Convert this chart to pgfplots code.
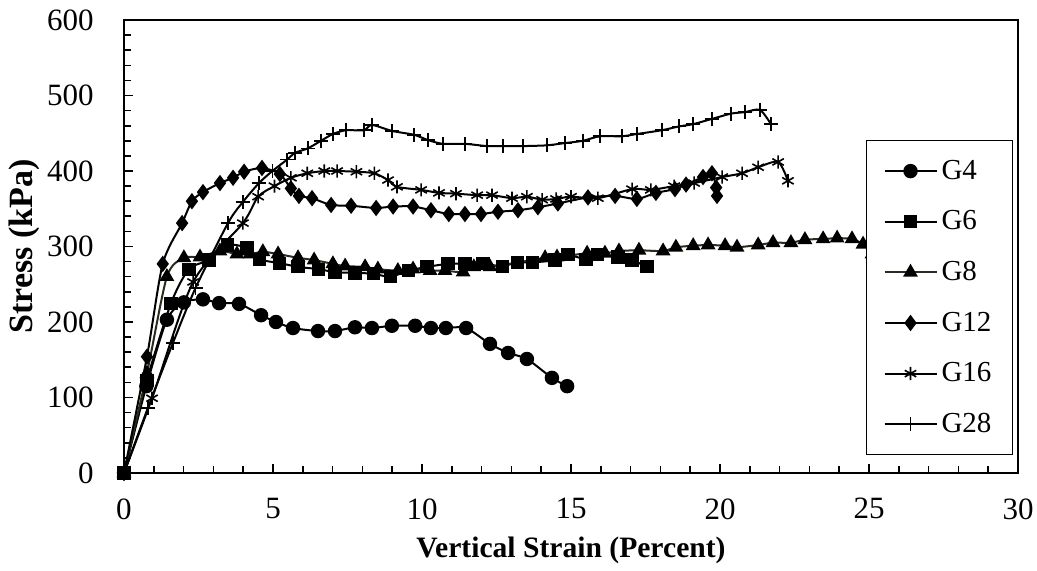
\documentclass[border=0pt]{standalone}
\usepackage{pgfplots}
\pgfplotsset{compat=1.18}
\usepackage{fontspec}
\setmainfont{Liberation Serif}
\begin{document}
\begin{tikzpicture}
\begin{axis}[
  name=ax,
  scale only axis,
  width=447pt, height=226.5pt,
  xmin=0, xmax=30, ymin=0, ymax=600,
  xtick distance=5, ytick distance=100,
  minor x tick num=4, minor y tick num=4,
  xtick pos=bottom, ytick pos=left,
  tick align=inside,
  major tick length=4.5pt, minor tick length=3.5pt,
  every tick/.style={black, line width=0.8pt},
  axis line style={line width=1pt},
  /pgf/number format/assume math mode=true,
  tick label style={font=\fontsize{15.5}{17}\selectfont},
  yticklabel style={anchor=east, inner sep=0pt, xshift=-15pt},
  xticklabel style={anchor=north, inner sep=0pt, yshift=-12.5pt},
  xlabel={\textbf{Vertical Strain (Percent)}},
  ylabel={\textbf{Stress (kPa)}},
  xlabel style={font=\fontsize{14.8}{17}\selectfont, at={(rel axis cs:0.5,0)}, anchor=center, yshift=-38.5pt},
  ylabel style={font=\fontsize{17}{19}\selectfont, at={(rel axis cs:0,0.5)}, anchor=center, yshift=50pt},
  every axis plot/.append style={line width=1pt, smooth, tension=0.45},
  legend style={at={(rel axis cs:0.83,0.04)}, anchor=south west,
    draw=black, line width=0.5pt, fill=white,
    font=\fontsize{14.5}{16}\selectfont,
    row sep=10.2pt, inner xsep=8.5pt, inner ysep=7.5pt},
  legend cell align=left,
  legend image code/.code={\draw[mark repeat=2, mark phase=2, #1] plot coordinates {(0pt,0pt) (13pt,0pt) (26pt,0pt)};},
]
% G4
\addplot[black, mark=*, mark size=3.1pt] coordinates {
(0,0) (0.75,115) (1.44,203) (2.01,226) (2.65,230) (3.19,225) (3.86,224) (4.6,209)
(5.1,200) (5.67,192) (6.51,188) (7.08,188) (7.75,193) (8.32,192) (8.99,195)
(9.77,195) (10.3,192) (10.8,192) (11.48,192) (12.28,171) (12.89,159) (13.52,151)
(14.36,126) (14.87,115)};
\addlegendentry{G4}
% G6
\addplot[black, mark=square*, mark size=2.8pt] coordinates {
(0,0) (0.77,123) (1.58,225) (2.18,270) (2.85,282) (3.46,302) (4.13,298) (4.56,283)
(5.23,278) (5.84,273) (6.54,270) (7.08,266) (7.75,265) (8.36,264) (8.93,260)
(9.56,268) (10.17,273) (10.87,277) (11.44,277) (12.05,277) (12.7,274) (13.2,279)
(13.72,279) (14.46,282) (14.9,289) (15.5,283) (15.9,289) (16.58,286) (17.05,282)
(17.55,273)};
\addlegendentry{G6}
% G8
\addplot[color={rgb,255:red,45;green,43;blue,28}, mark=triangle*, mark size=3.3pt, mark options={black}] coordinates {
(0,0) (0.77,132) (1.44,260) (2.01,285) (2.55,286) (3.22,294) (3.79,290) (4.23,290)
(4.66,293) (5.17,290) (5.84,285) (6.38,282) (7.01,277) (7.42,274) (8.09,273)
(8.52,270) (9.19,268) (9.7,270) (10.27,268) (10.77,268) (11.38,266) (11.74,273)
(12.28,273) (14.13,285) (14.53,286) (15.54,291) (16.14,291) (16.61,294) (17.28,295)
(18.09,294) (18.52,299) (19.1,301) (19.6,302) (20.17,301) (20.57,299) (21.28,302)
(21.78,305) (22.38,305) (22.85,309) (23.46,310) (23.93,311) (24.43,310) (24.8,303)
(25.1,290)};
\addlegendentry{G8}
% G12
\addplot[black, mark=diamond*, mark size=3.3pt] coordinates {
(0,0) (0.77,154) (1.3,277) (1.95,331) (2.28,360) (2.65,372) (3.22,384) (3.66,391)
(4.03,399) (4.63,404) (5.23,396) (5.6,377) (5.87,367) (6.31,364) (6.95,355)
(7.62,354) (8.46,351) (9.03,353) (9.7,353) (10.3,348) (10.9,343) (11.44,343)
(11.98,343) (12.55,346) (13.22,348) (13.89,352) (14.56,357) (15.57,365) (16.48,367)
(17.21,363) (17.85,371) (18.49,376) (18.86,382) (19.43,392) (19.73,397) (19.87,378)
(19.9,367)};
\addlegendentry{G12}
% G16
\addplot[black, mark=asterisk, mark size=3.3pt, mark options={line width=0.8pt}] coordinates {
(0,0) (0.94,99) (2.32,253) (3.99,331) (4.5,366) (5.05,380) (5.6,391) (6.15,397)
(6.72,400) (7.15,400) (7.8,399) (8.4,397) (8.86,388) (9.16,379) (9.97,375)
(10.57,371) (11.14,370) (11.85,368) (12.35,368) (13.02,364) (13.52,366) (14.03,362)
(14.5,363) (15.0,366) (15.9,364) (17.05,376) (17.68,375) (18.46,380) (19.13,384)
(20.07,392) (20.74,397) (21.28,405) (21.95,412) (22.28,387)};
\addlegendentry{G16}
% G28
\addplot[black, mark=+, mark size=3.5pt, mark options={line width=0.8pt}] coordinates {
(0,0) (0.8,86) (1.64,172) (2.4,245) (3.49,331) (3.99,359) (4.53,384) (4.98,400)
(5.47,415) (5.74,424) (6.17,430) (6.61,440) (7.01,449) (7.45,454) (8.05,454)
(8.32,461) (9.0,453) (9.73,448) (10.2,441) (10.7,436) (11.44,436) (12.18,433)
(12.72,433) (13.39,433) (14.19,434) (14.8,437) (15.4,440) (15.97,446) (16.71,446)
(17.21,449) (18.05,454) (18.62,459) (19.09,462) (19.73,469) (20.37,476) (20.84,478)
(21.34,481) (21.71,462)};
\addlegendentry{G28}
\end{axis}
\path ([xshift=-62pt,yshift=-49pt]ax.south west) ([xshift=9.5pt,yshift=10pt]ax.north east);
\end{tikzpicture}
\end{document}
